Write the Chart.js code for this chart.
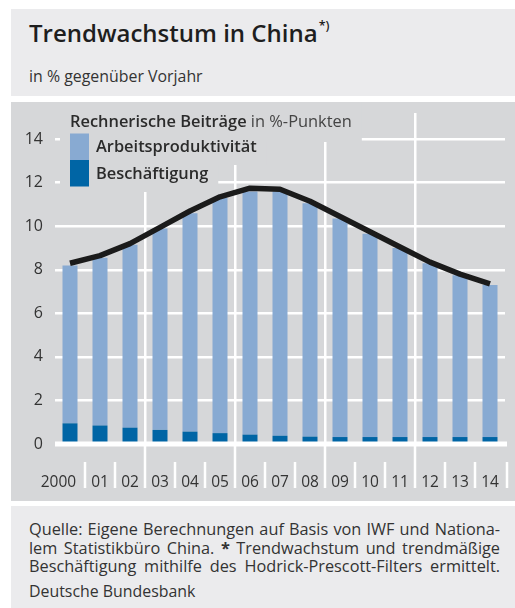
<!DOCTYPE html>
<html lang="de">
<head>
<meta charset="utf-8">
<script src="https://cdn.jsdelivr.net/npm/chart.js@4.4.7/dist/chart.umd.min.js"></script>
<style>
  body { margin: 0; width: 515px; height: 608px; background: #fff; position: relative; overflow: hidden;
         font-family: "Open Sans", "Noto Sans", sans-serif; color: #2b2b2b; }
  .box { position: absolute; left: 11px; width: 504px; }
  #head { top: 9px; height: 87px; background: #ebebed; }
  #title { position: absolute; left: 18px; top: 7px; font-size: 24px; font-weight: 600; color: #1e1e1e; white-space: nowrap; }
  #title sup { font-size: 12.5px; vertical-align: 12px; margin-left: 1px; font-weight: 600; }
  #subtitle { position: absolute; left: 18px; top: 56px; font-size: 15.9px; color: #333; }
  #panel { top: 102px; height: 399px; background: #d6d7d9; }
  #foot { top: 506px; height: 102px; background: #ebebed; }
  #note { position: absolute; left: 18px; top: 14px; width: 471px; font-size: 16.3px; line-height: 18.5px; color: #333; }
  #note div { text-align: justify; text-align-last: justify; white-space: nowrap; }
  #src { position: absolute; left: 18px; top: 74px; font-size: 15.9px; color: #333; }
</style>
</head>
<body>
<div class="box" id="head">
  <div id="title">Trendwachstum in China<sup>*)</sup></div>
  <div id="subtitle">in % gegenüber Vorjahr</div>
</div>
<div class="box" id="panel"><canvas id="trendChart" width="504" height="399"></canvas></div>
<div class="box" id="foot">
  <div id="note">
    <div>Quelle: Eigene Berechnungen auf Basis von IWF und Nationa-</div>
    <div>lem Statistikbüro China. <b>*</b> Trendwachstum und trendmäßige</div>
    <div>Beschäftigung mithilfe des Hodrick-Prescott-Filters ermittelt.</div>
  </div>
  <div id="src">Deutsche Bundesbank</div>
</div>
<script>
const years = ["2000\u2003\u2002", "01", "02", "03", "04", "05", "06", "07", "08", "09", "10", "11", "12", "13", "14"];
// Rechnerische Beiträge in %-Punkten
const employment = [0.95, 0.85, 0.75, 0.65, 0.57, 0.5, 0.43, 0.38, 0.34, 0.32, 0.32, 0.32, 0.32, 0.32, 0.32];
const productivity = [7.25, 7.7, 8.4, 9.25, 10.03, 10.8, 11.17, 11.22, 10.71, 10.03, 9.33, 8.68, 7.98, 7.43, 6.98];
// Trendwachstum in %
const trendGrowth = [8.3, 8.65, 9.2, 9.95, 10.7, 11.35, 11.75, 11.7, 11.15, 10.45, 9.75, 9.05, 8.35, 7.8, 7.35];
const yTicks = [0, 2, 4, 6, 8, 10, 12, 14];

const panelColor = "#d6d7d9";
const textColor = "#2b2b2b";
const fontFamily = "'Open Sans', 'Noto Sans', sans-serif";

// legend drawn inside the plot, with panel-coloured patches hiding the grid behind it
const legendBox = {
  id: "legendBox",
  beforeDatasetsDraw(chart) {
    const ctx = chart.ctx;
    const x = 59;
    const pad = 10;
    const boldFont = `600 16.4px ${fontFamily}`;
    const plainFont = `16.4px ${fontFamily}`;
    const head = "Rechnerische Beiträge";
    const headRest = " in %-Punkten";
    const entries = [chart.data.datasets[1], chart.data.datasets[0]];

    ctx.save();
    ctx.font = boldFont;
    const headWidth = ctx.measureText(head).width;
    ctx.font = plainFont;
    const restWidth = ctx.measureText(headRest).width;
    ctx.font = boldFont;
    const entryWidths = entries.map((dataset) => ctx.measureText(dataset.label).width);

    ctx.fillStyle = panelColor;
    ctx.fillRect(x - 10, 0, headWidth + restWidth + pad + 10, 40);
    ctx.fillRect(x - 10, 40, 26 + entryWidths[0] + pad + 10, 23);
    ctx.fillRect(x - 10, 63, 26 + entryWidths[1] + pad + 10, 27);

    ctx.textBaseline = "middle";
    ctx.fillStyle = textColor;
    ctx.font = boldFont;
    ctx.fillText(head, x, 20);
    ctx.fillStyle = "#444";
    ctx.font = plainFont;
    ctx.fillText(headRest, x + headWidth, 20);

    entries.forEach((dataset, index) => {
      const top = 31.5 + index * 26.5;
      ctx.fillStyle = dataset.backgroundColor;
      ctx.fillRect(x, top, 19, 26.5);
      ctx.fillStyle = textColor;
      ctx.font = boldFont;
      ctx.fillText(dataset.label, x + 26, top + 14);
    });
    ctx.restore();
  },
  afterDatasetsDraw(chart) {
    // zero line sits on top of the bars
    const ctx = chart.ctx;
    const y = chart.scales.y.getPixelForValue(0);
    ctx.save();
    ctx.strokeStyle = "#ffffff";
    ctx.lineWidth = 5;
    ctx.beginPath();
    ctx.moveTo(chart.chartArea.left, y);
    ctx.lineTo(chart.chartArea.right + 2, y);
    ctx.stroke();
    ctx.restore();
  },
  afterDraw(chart) {
    // separators between the year labels
    const ctx = chart.ctx;
    const xScale = chart.scales.x;
    const step = xScale.getPixelForValue(1) - xScale.getPixelForValue(0);
    const axisY = chart.scales.y.getPixelForValue(0);
    ctx.save();
    ctx.strokeStyle = "#ffffff";
    ctx.lineWidth = 2.5;
    for (let k = 1; k <= years.length; k += 1) {
      const x = xScale.getPixelForValue(k - 1) + step / 2 + (k === years.length ? 2 : 0);
      const major = k % 3 === 0 && k < years.length;
      ctx.beginPath();
      ctx.moveTo(x, major ? axisY : 360);
      ctx.lineTo(x, 386);
      ctx.stroke();
    }
    ctx.restore();
  },
};

new Chart(document.querySelector("#trendChart"), {
  type: "bar",
  data: {
    labels: years,
    datasets: [
      {
        label: "Beschäftigung",
        data: employment,
        backgroundColor: "#0065a5",
        stack: "beitrag",
        order: 1,
      },
      {
        label: "Arbeitsproduktivität",
        data: productivity,
        backgroundColor: "#88aad2",
        stack: "beitrag",
        order: 1,
      },
      {
        type: "line",
        label: "Trendwachstum",
        data: trendGrowth,
        borderColor: "#1b1b1b",
        borderWidth: 5.5,
        pointRadius: 0,
        tension: 0,
        borderJoinStyle: "round",
        stack: "trend",
        order: 0,
      },
    ],
  },
  options: {
    responsive: false,
    animation: false,
    devicePixelRatio: 1,
    layout: { padding: { top: 11, right: 10, left: 0, bottom: 0 } },
    datasets: { bar: { barPercentage: 0.5, categoryPercentage: 1.0, borderWidth: 0 } },
    plugins: { legend: { display: false }, tooltip: { enabled: false } },
    scales: {
      x: {
        stacked: true,
        border: { display: false },
        grid: {
          offset: true,
          drawTicks: false,
          lineWidth: 2.5,
          color(context) {
            const i = context.index;
            return i % 3 === 0 && i > 0 && i < years.length ? "#ffffff" : "transparent";
          },
        },
        ticks: {
          autoSkip: false,
          maxRotation: 0,
          padding: 29,
          color: "#333333",
          font: { family: fontFamily, size: 15.5 },
        },
        afterFit(scale) {
          scale.height = 57;
          scale.paddingLeft = 0;
          scale.paddingRight = 0;
        },
      },
      y: {
        stacked: true,
        min: 0,
        max: 15.2,
        border: { display: false },
        grid: { color: "#ffffff", lineWidth: 2.5, drawTicks: false },
        ticks: {
          padding: 12,
          color: "#333333",
          font: { family: fontFamily, size: 16 },
        },
        afterBuildTicks(scale) {
          scale.ticks = yTicks.map((value) => ({ value }));
        },
        afterFit(scale) {
          scale.width = 44;
          scale.paddingTop = 0;
          scale.paddingBottom = 0;
        },
      },
    },
  },
  plugins: [legendBox],
});
</script>
</body>
</html>
